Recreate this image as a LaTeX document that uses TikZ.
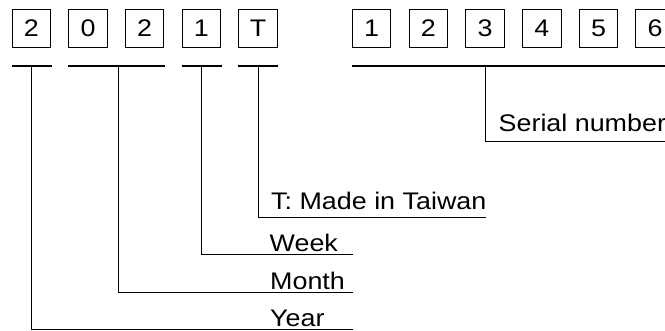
\documentclass[tikz,border=0pt]{standalone}
\usepackage{fontspec}
\setmainfont[FakeStretch=1.12]{Liberation Sans}
\begin{document}
\begin{tikzpicture}[x=1pt,y=-1pt,
  digit/.style={draw,line width=1pt,minimum width=38.5pt,minimum height=38.7pt,inner sep=0pt,font=\fontsize{24}{28}\selectfont},
  bar/.style={line width=2.6pt},
  lead/.style={line width=1pt},
  lbl/.style={anchor=base west,inner sep=0pt,font=\fontsize{24}{28}\selectfont}]
\useasboundingbox (0,0) rectangle (665,331);
\clip (0,0) rectangle (665,331);
% boxes
\foreach \t [count=\i] in {2,0,2,1,T}
  \node[digit] (b\i) at ({31.3+56.7*(\i-1)},28.4) {\t};
\foreach \t [count=\i] in {1,2,3,4,5,6}
  \node[digit] (s\i) at ({371.7+56.7*(\i-1)},28.4) {\t};
% bars
\coordinate (yA) at (11.7,66);  \coordinate (yB) at (51.7,66);
\coordinate (mA) at (68.3,66);  \coordinate (mB) at (165,66);
\coordinate (wA) at (181.7,66); \coordinate (wB) at (221.7,66);
\coordinate (tA) at (238.3,66); \coordinate (tB) at (278.3,66);
\coordinate (sA) at (352.3,66); \coordinate (sB) at (670,66);
\draw[bar] (yA) -- (yB);
\draw[bar] (mA) -- (mB);
\draw[bar] (wA) -- (wB);
\draw[bar] (tA) -- (tB);
\draw[bar] (sA) -- (sB);
% leader start points
\coordinate (yr) at (31.7,66);
\coordinate (mo) at (118.3,66);
\coordinate (wk) at (201.7,66);
\coordinate (tw) at (258.3,66);
\coordinate (sn) at (485,66);
% leader ends
\coordinate (yrE) at (353,330);
\coordinate (moE) at (353,292.7);
\coordinate (wkE) at (353,255);
\coordinate (twE) at (485.7,217.7);
\coordinate (snE) at (670,141.7);
\draw[lead] (yr) |- (yrE);
\draw[lead] (mo) |- (moE);
\draw[lead] (wk) |- (wkE);
\draw[lead] (tw) |- (twE);
\draw[lead] (sn) |- (snE);
% labels
\node[lbl] (ly) at (270,326.5) {Year};
\node[lbl] (lm) at (270,289.5) {Month};
\node[lbl] (lw) at (269.5,251.5) {Week};
\node[lbl] (lt) at (271,209.3) {T: Made in Taiwan};
\node[lbl] (ls) at (498.5,131.5) {Serial number};
\end{tikzpicture}
\end{document}
